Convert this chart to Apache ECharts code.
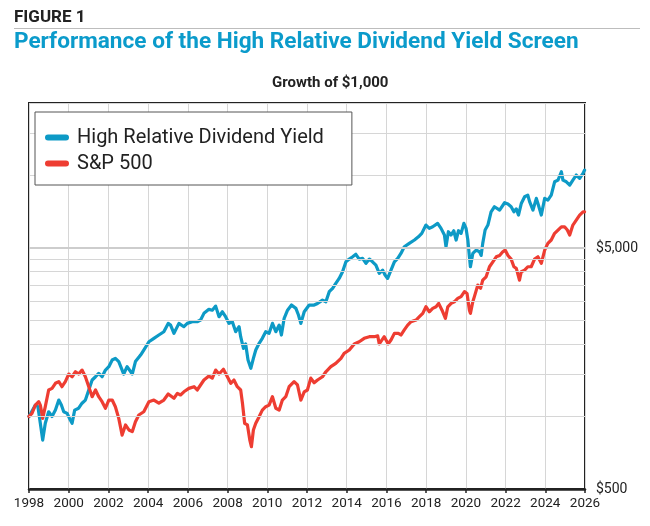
<!DOCTYPE html>
<html>
<head>
<meta charset="utf-8">
<script src="https://cdn.jsdelivr.net/npm/echarts@6/dist/echarts.min.js"></script>
<style>
html,body{margin:0;padding:0;background:#fff;}
#chart{width:650px;height:526px;}
</style>
</head>
<body>
<div id="chart"></div>
<script>
var hrdyYears = [1998.00,1998.32,1998.45,1998.57,1998.69,1998.82,1998.99,1999.16,1999.33,1999.50,1999.63,1999.75,1999.92,2000.08,2000.17,2000.30,2000.50,2000.67,2000.84,2001.01,2001.18,2001.35,2001.51,2001.68,2001.85,2002.02,2002.19,2002.35,2002.52,2002.69,2002.77,2002.94,2003.20,2003.36,2003.62,2003.78,2004.04,2004.29,2004.54,2004.79,2005.01,2005.13,2005.30,2005.55,2005.80,2005.97,2006.22,2006.47,2006.64,2006.81,2007.06,2007.23,2007.40,2007.57,2007.74,2007.90,2008.07,2008.24,2008.41,2008.58,2008.66,2008.80,2008.91,2009.03,2009.17,2009.30,2009.42,2009.59,2009.75,2009.92,2010.09,2010.26,2010.43,2010.60,2010.71,2010.85,2011.02,2011.22,2011.44,2011.57,2011.69,2011.86,2012.11,2012.36,2012.53,2012.78,2012.95,2013.12,2013.29,2013.45,2013.62,2013.79,2013.96,2014.13,2014.30,2014.46,2014.63,2014.80,2014.97,2015.14,2015.30,2015.47,2015.64,2015.81,2015.93,2016.06,2016.23,2016.40,2016.57,2016.73,2016.90,2017.15,2017.41,2017.61,2017.78,2017.99,2018.16,2018.33,2018.58,2018.75,2018.92,2019.00,2019.12,2019.25,2019.39,2019.51,2019.63,2019.76,2019.90,2020.01,2020.10,2020.18,2020.23,2020.35,2020.52,2020.69,2020.77,2020.85,2020.97,2021.11,2021.27,2021.44,2021.70,2021.95,2022.12,2022.28,2022.42,2022.54,2022.65,2022.79,2022.96,2023.12,2023.21,2023.38,2023.55,2023.66,2023.80,2023.97,2024.13,2024.30,2024.47,2024.64,2024.81,2024.89,2025.06,2025.23,2025.39,2025.56,2025.73,2025.90,2025.98];
var hrdyValues = [1000,1115,1098,937,798,937,1046,1000,1063,1170,1115,1046,1030,966,937,1063,1082,1135,1170,1288,1417,1462,1510,1462,1558,1609,1715,1743,1690,1558,1500,1609,1500,1690,1798,1887,2042,2110,2178,2248,2434,2395,2213,2434,2358,2434,2473,2473,2513,2679,2783,2760,2871,2594,2720,2594,2434,2473,2248,2358,2143,1917,2000,1715,1584,1743,1887,2012,2110,2248,2213,2434,2248,2395,2178,2555,2760,2900,2810,2636,2434,2720,2900,2900,2945,3041,2993,3296,3403,3570,3741,3986,4385,4500,4600,4710,4500,4530,4320,4500,4385,4250,3926,4050,3863,3741,4050,4385,4530,4750,5063,5230,5400,5570,5755,6230,6035,6126,6330,6035,5660,5063,5845,5660,5900,5400,5900,5755,6330,6035,5400,4600,4182,4750,4904,4827,4660,5230,5940,6230,7072,7420,7190,7710,7612,7420,7072,7270,6855,7650,8165,8290,7790,7190,8040,7510,6855,8040,7910,8290,9420,9575,10366,9575,9420,9125,9575,10045,9730,10210,10536];

var spYears = [1998.00,1998.15,1998.32,1998.49,1998.57,1998.69,1998.82,1998.99,1999.16,1999.33,1999.50,1999.66,1999.83,2000.00,2000.17,2000.34,2000.50,2000.67,2000.84,2001.01,2001.18,2001.35,2001.51,2001.68,2001.85,2002.02,2002.19,2002.35,2002.52,2002.69,2002.86,2003.03,2003.20,2003.36,2003.53,2003.78,2004.04,2004.29,2004.54,2004.79,2005.01,2005.30,2005.47,2005.63,2005.80,2006.05,2006.31,2006.47,2006.64,2006.81,2007.06,2007.23,2007.40,2007.57,2007.79,2007.99,2008.16,2008.32,2008.49,2008.66,2008.75,2008.86,2009.00,2009.12,2009.20,2009.30,2009.42,2009.59,2009.75,2009.92,2010.09,2010.26,2010.43,2010.60,2010.76,2010.93,2011.10,2011.35,2011.52,2011.69,2011.86,2012.02,2012.19,2012.36,2012.53,2012.78,2012.95,2013.20,2013.45,2013.71,2013.87,2014.13,2014.38,2014.63,2014.88,2015.14,2015.39,2015.56,2015.64,2015.89,2016.09,2016.23,2016.40,2016.60,2016.73,2016.90,2017.07,2017.24,2017.49,2017.66,2017.83,2017.99,2018.16,2018.33,2018.50,2018.63,2018.80,2018.97,2019.09,2019.26,2019.42,2019.59,2019.76,2019.93,2020.06,2020.18,2020.23,2020.35,2020.43,2020.60,2020.74,2020.85,2021.02,2021.19,2021.36,2021.53,2021.70,2021.86,2021.98,2022.12,2022.28,2022.42,2022.54,2022.70,2022.79,2022.96,2023.12,2023.29,2023.46,2023.63,2023.80,2023.97,2024.13,2024.30,2024.47,2024.64,2024.81,2024.97,2025.11,2025.23,2025.39,2025.56,2025.73,2025.90,2025.98];
var spValues = [1000,1030,1115,1152,1115,982,1098,1288,1308,1373,1395,1329,1395,1500,1462,1533,1500,1558,1462,1329,1208,1288,1208,1152,1082,1170,1170,1098,982,837,922,879,865,951,1014,1046,1152,1170,1135,1170,1240,1190,1247,1228,1266,1308,1329,1288,1351,1417,1472,1443,1558,1500,1570,1462,1373,1417,1329,1288,1135,937,922,798,749,879,937,998,1063,1098,1115,1208,1082,1063,1170,1208,1329,1395,1351,1170,1266,1288,1443,1380,1417,1462,1533,1609,1661,1743,1828,1887,2000,2042,2110,2143,2143,2160,2000,2143,2000,2076,2213,2213,2178,2288,2395,2473,2513,2594,2679,2853,2720,2810,2853,2948,2760,2555,2853,2948,2993,3092,3143,3296,3240,2760,2679,2993,3143,3510,3403,3681,3800,4182,4385,4600,4660,4827,4904,4660,4500,4182,4120,3681,3986,4050,4182,4182,4500,4600,4320,4904,5230,5400,5755,5940,6126,6126,5940,5660,6230,6530,6855,7072,7072];

var seriesNames = ['High Relative Dividend Yield', 'S&P 500'];
var seriesColors = ['#0d9ac6', '#ee3d32'];
var xTickYears = [1998, 2026, 2];           // min, max, step
var yGridValues = [1000, 1500, 2000, 2500, 3000, 3500, 4000, 4500, 10000, 15000, 20000];
var yMajorGrid = [5000];
var yLabelValues = [500, 5000];
var yRange = [500, 20000];

function pairs(xs, ys) { return xs.map(function (x, i) { return [x, ys[i]]; }); }
function money(v) { return '$' + v.toLocaleString('en-US'); }

var markData = yGridValues.map(function (v) {
  return { yAxis: v, lineStyle: { color: '#d6d6d6', width: 1, type: 'solid' }, label: { show: false } };
}).concat(yMajorGrid.map(function (v) {
  return { yAxis: v, lineStyle: { color: '#cdcdcd', width: 2, type: 'solid' }, label: { show: false } };
})).concat(yLabelValues.map(function (v) {
  return { yAxis: v, lineStyle: { color: 'rgba(0,0,0,0)', width: 1, type: 'solid' },
    label: { show: true, position: 'end', distance: 11, formatter: money(v),
      color: '#222', fontSize: 14, fontFamily: 'Roboto' } };
}));

var chart = echarts.init(document.getElementById('chart'), null, { renderer: 'canvas' });
var capsule = 'path://M3,0 L21,0 A3,3 0 0 1 21,6 L3,6 A3,3 0 0 1 3,0 Z';

chart.setOption({
  animation: false,
  backgroundColor: '#fff',
  graphic: [
    { type: 'text', left: 14, top: 9, style: { text: 'FIGURE 1', fill: '#222', font: 'bold 17px Roboto', letterSpacing: 0.8 } },
    { type: 'line', shape: { x1: 14, y1: 28.5, x2: 640, y2: 28.5 }, style: { stroke: '#bdbdbd', lineWidth: 1 } },
    { type: 'text', left: 14, top: 31, style: { text: 'Performance of the High Relative Dividend Yield Screen', fill: '#0b9bcb', font: 'bold 22.6px Roboto' } },
    { type: 'text', left: 272, top: 76, style: { text: 'Growth of $1,000', fill: '#222', font: 'bold 15px Roboto' } }
  ],
  grid: { left: 29, right: 65, top: 103, bottom: 37, show: true, borderColor: '#222', borderWidth: 2, backgroundColor: 'transparent' },
  legend: {
    z: 20,
    data: seriesNames.map(function (n, i) {
      return { name: n, icon: capsule, itemStyle: { color: seriesColors[i], borderWidth: 0 } };
    }),
    orient: 'vertical',
    left: 35, top: 112,
    padding: [15, 28, 11, 10],
    itemGap: 5,
    itemWidth: 24, itemHeight: 6,
    itemStyle: { borderWidth: 0 },
    lineStyle: { width: 0 },
    borderColor: '#555', borderWidth: 1,
    backgroundColor: '#fff',
    textStyle: { color: '#222', fontSize: 20, fontFamily: 'Roboto', lineHeight: 21, padding: [0, 0, 0, 3] }
  },
  xAxis: {
    type: 'value',
    min: xTickYears[0], max: xTickYears[1], interval: xTickYears[2],
    axisLine: { show: true, lineStyle: { color: '#222', width: 2.5 } },
    axisTick: { show: true, length: 4, lineStyle: { color: '#222', width: 1.5 } },
    axisLabel: { color: '#222', fontSize: 13.5, fontFamily: 'Roboto', margin: 8, formatter: function (v) { return String(v); } },
    splitLine: { show: true, lineStyle: { color: '#d6d6d6', width: 1 } }
  },
  yAxis: {
    type: 'log', logBase: 10, position: 'right',
    min: yRange[0], max: yRange[1],
    axisLine: { show: false }, axisTick: { show: false },
    axisLabel: { show: false }, splitLine: { show: false }
  },
  series: [
    {
      name: 'grid', type: 'line', data: [[1998, 1000]], symbol: 'none', silent: true,
      lineStyle: { opacity: 0 }, z: 1,
      markLine: { silent: true, symbol: 'none', animation: false, data: markData }
    },
    {
      name: seriesNames[0], type: 'line', data: pairs(hrdyYears, hrdyValues),
      symbol: 'none', color: seriesColors[0], z: 3,
      lineStyle: { width: 3.2, color: seriesColors[0], cap: 'round', join: 'round' }
    },
    {
      name: seriesNames[1], type: 'line', data: pairs(spYears, spValues),
      symbol: 'none', color: seriesColors[1], z: 4,
      lineStyle: { width: 3.2, color: seriesColors[1], cap: 'round', join: 'round' }
    }
  ]
});
</script>
</body>
</html>
